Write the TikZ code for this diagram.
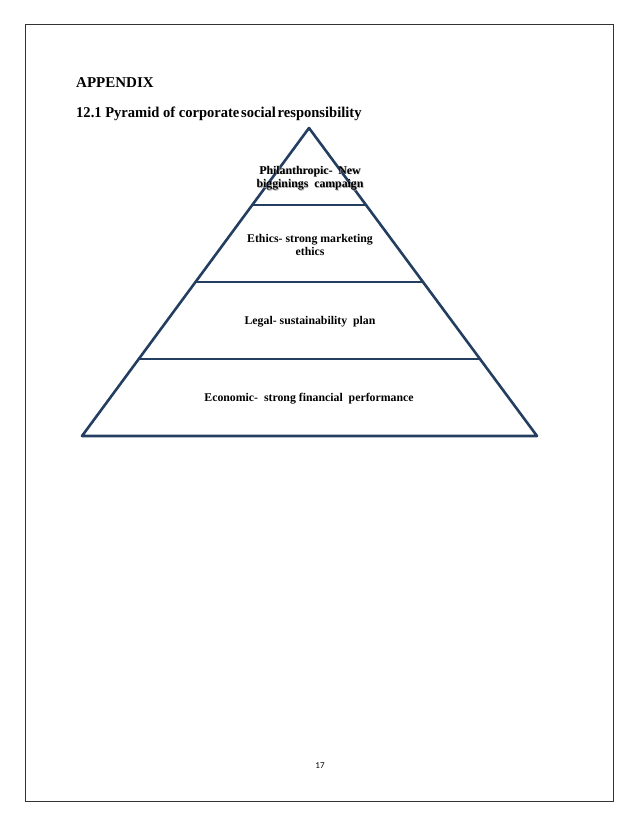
\documentclass[tikz,border=0pt]{standalone}
\usepackage{fontspec}
\setmainfont{Liberation Serif}
\newfontfamily\pagefont{Carlito}
\usetikzlibrary{calc}
\definecolor{pyrblue}{RGB}{36,62,98}
\begin{document}
\begin{tikzpicture}[x=1pt,y=-1pt,
  pyrline/.style={draw=pyrblue,line width=2.6pt,line cap=round,line join=round},
  lbl/.style={font=\bfseries\fontsize{11.8}{13.5}\selectfont,align=center,inner sep=0pt},
  head/.style={font=\bfseries\fontsize{15}{17}\selectfont,anchor=base west,inner sep=0pt}]
\useasboundingbox (0,0) rectangle (638,826);
\draw[line width=1pt,draw=black!80] (25,25) rectangle (613,801);
\node[head] (app) at (76,88) {APPENDIX};
\node[head] (ttl) at (76,118) {\scalebox{0.97}[1]{12.1 Pyramid of corporate\hspace{0.12em}social\hspace{0.12em}responsibility}};
\coordinate (apex) at (309,128);
\coordinate (bl) at (82,436);
\coordinate (br) at (537,436);
\coordinate (l1) at ($(apex)!0.25!(bl)$);
\coordinate (r1) at ($(apex)!0.25!(br)$);
\coordinate (l2) at ($(apex)!0.5!(bl)$);
\coordinate (r2) at ($(apex)!0.5!(br)$);
\coordinate (l3) at ($(apex)!0.75!(bl)$);
\coordinate (r3) at ($(apex)!0.75!(br)$);
\draw[pyrline] (apex) -- (bl) -- (br) -- cycle;
\draw[pyrline] (l1) -- (r1);
\draw[pyrline] (l2) -- (r2);
\draw[pyrline] (l3) -- (r3);
\node[lbl,text=black!35] at (310.7,178.7) {Philanthropic-\ \ New\\bigginings\ \ campaign};
\node[lbl] (phil) at (310,178) {Philanthropic-\ \ New\\bigginings\ \ campaign};
\node[lbl] (eth) at (310,245) {Ethics-\ strong\ marketing\\ethics};
\node[lbl] (leg) at (310,322) {Legal-\ sustainability\ \ plan};
\node[lbl] (eco) at (309,399) {Economic-\ \ strong financial\ \ performance};
\node[font=\pagefont\fontsize{9}{10}\selectfont,inner sep=0pt] (pg) at (320,766) {17};
\end{tikzpicture}
\end{document}
